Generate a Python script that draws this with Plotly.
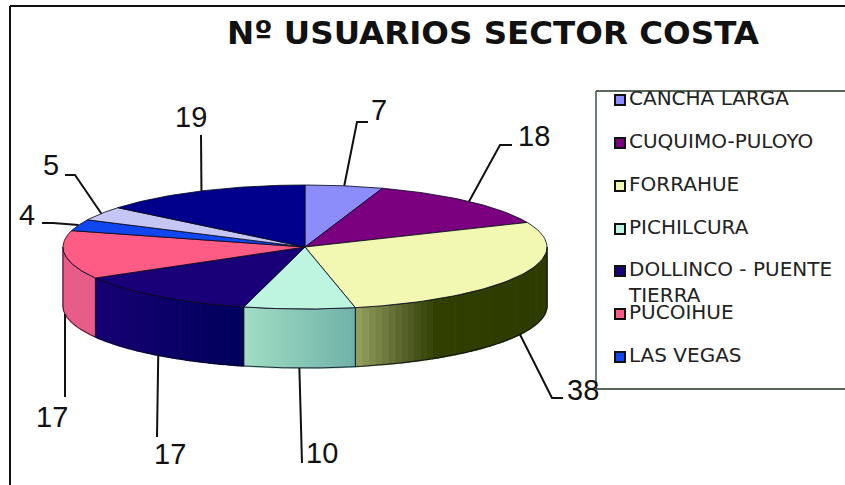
import numpy as np
import plotly.graph_objects as go

title = "Nº USUARIOS SECTOR COSTA"
sectors = ["CANCHA LARGA", "CUQUIMO-PULOYO", "FORRAHUE", "PICHILCURA",
           "DOLLINCO - PUENTE<br>TIERRA", "PUCOIHUE", "LAS VEGAS", "OTRO A", "OTRO B"]
values = [7, 18, 38, 10, 17, 17, 4, 5, 19]
top_colors = ["#8C8CFA", "#7A0080", "#F2F8B2", "#BEF5E0", "#1A0078",
              "#FF5C85", "#0F46F0", "#C6C6F5", "#00008C"]
# wall shading: (fraction left-to-right across the visible wall, colour)
wall_stops = {
    2: [(0, (150, 162, 96)), (0.28, (80, 92, 36)), (0.42, (50, 64, 2)), (1, (46, 60, 0))],
    3: [(0, (162, 222, 197)), (1, (112, 178, 168))],
    4: [(0, (24, 0, 116)), (1, (0, 0, 92))],
    5: [(0, (232, 92, 138)), (1, (232, 92, 138))],
}
legend_count = 7
legend_key_y = [100, 143, 186, 229, 271, 314, 357]
legend_text_y = [100, 143, 186, 229, 284, 314, 357]
label_specs = {  # elbow and label placement per sector (pixels)
    0: ([(357, 122), (368, 122)], (379, 110)),
    1: ([(500, 145), (512, 145)], (534, 136)),
    2: ([(552, 398), (563, 398)], (583, 390)),
    3: ([(302, 463)], (322, 453)),
    4: ([(157, 437)], (170, 454)),
    5: ([(65, 397)], (52, 417)),
    6: ([(53, 223), (42, 223)], (27, 215)),
    7: ([(75, 175), (65, 175)], (51, 165)),
    8: ([(201, 135)], (191, 117)),
}

CX, CY, A, B, DEPTH = 305, 247, 242, 62, 59
W, H = 845, 485
EDGE = "rgba(10,10,30,0.85)"


def rim(t, drop=0):
    t = np.radians(t)
    return CX + A * np.sin(t), CY - B * np.cos(t) + drop


def mix(stops, f):
    for (f0, c0), (f1, c1) in zip(stops, stops[1:]):
        if f <= f1:
            u = (f - f0) / (f1 - f0)
            return "rgb(%d,%d,%d)" % tuple(c0[i] + u * (c1[i] - c0[i]) for i in range(3))
    return "rgb(%d,%d,%d)" % stops[-1][1]


total = sum(values)
edges = np.cumsum([0] + values) / total * 360
fig = go.Figure()


def poly(x, y, fill, line=None, width=1):
    fig.add_trace(go.Scatter(x=list(x), y=list(y), mode="lines", fill="toself", fillcolor=fill,
                             line=dict(color=line or fill, width=width),
                             hoverinfo="skip", showlegend=False))


# side wall
for i, stops in wall_stops.items():
    a0, a1 = max(edges[i], 90), min(edges[i + 1], 270)
    n = max(int(abs(rim(a1)[0] - rim(a0)[0]) / 4), 1)
    span = np.linspace(a0, a1, n + 1)
    xl, xr = sorted((rim(a0)[0], rim(a1)[0]))
    for s0, s1 in zip(span, span[1:]):
        ss = np.linspace(s0, s1, 4)
        xt, yt = rim(ss)
        xb, yb = rim(ss[::-1], DEPTH)
        f = (rim((s0 + s1) / 2)[0] - xl) / (xr - xl)
        poly(np.r_[xt, xb], np.r_[yt, yb], mix(stops, f), width=1.5)
    ss = np.linspace(a0, a1, 60)
    xt, yt = rim(ss)
    xb, yb = rim(ss[::-1], DEPTH)
    fig.add_trace(go.Scatter(x=list(np.r_[xt, xb, xt[0]]), y=list(np.r_[yt, yb, yt[0]]), mode="lines",
                             line=dict(color=EDGE, width=1), hoverinfo="skip", showlegend=False))

# top faces
for i in range(len(values)):
    ss = np.linspace(edges[i], edges[i + 1], 60)
    xt, yt = rim(ss)
    poly(np.r_[CX, xt, CX], np.r_[CY, yt, CY], top_colors[i], EDGE, 1)

# leader lines and value labels
annotations = []
for i, v in enumerate(values):
    mid = (edges[i] + edges[i + 1]) / 2
    drop = DEPTH if 90 < mid < 270 else 0
    ax, ay = rim(mid, drop)
    pts, (lx, ly) = label_specs[i]
    fig.add_trace(go.Scatter(x=[ax] + [p[0] for p in pts], y=[ay] + [p[1] for p in pts], mode="lines",
                             line=dict(color="#111111", width=2), hoverinfo="skip", showlegend=False))
    annotations.append(dict(x=lx, y=ly, text=str(v), showarrow=False, xref="x", yref="y",
                            font=dict(family="Liberation Sans", size=29, color="#111111")))

# legend keys and names (as trace text so the box's top edge clips the first name)
fig.add_trace(go.Scatter(x=[620] * legend_count, y=legend_key_y, mode="markers",
                         marker=dict(symbol="square", size=10, color=top_colors[:legend_count],
                                     line=dict(color="#111111", width=2)),
                         hoverinfo="skip", showlegend=False))
fig.add_trace(go.Scatter(x=[629] * legend_count, y=legend_text_y, mode="text",
                         text=sectors[:legend_count], textposition="middle right",
                         textfont=dict(family="DejaVu Sans", size=20, color="#222222"),
                         hoverinfo="skip", showlegend=False))

annotations.append(dict(x=493, y=33, text="<b>%s</b>" % title, showarrow=False, xref="x", yref="y",
                        font=dict(family="DejaVu Sans", size=32.5, color="#111111")))

lines = [
    dict(x0=10, y0=6, x1=W, y1=6, color="#111111", width=2),
    dict(x0=10, y0=6, x1=10, y1=H, color="#111111", width=2),
    dict(x0=596, y0=91, x1=W, y1=91, color="#223322", width=1.5),
    dict(x0=596, y0=91, x1=596, y1=389, color="#335544", width=1.5),
    dict(x0=596, y0=389, x1=W, y1=389, color="#223322", width=1.5),
]
shapes = [dict(type="rect", xref="x", yref="y", x0=597, y0=78, x1=W, y1=90.5,
               fillcolor="white", line=dict(width=0), layer="above")]
shapes += [dict(type="line", xref="x", yref="y", x0=l["x0"], y0=l["y0"], x1=l["x1"], y1=l["y1"],
                line=dict(color=l["color"], width=l["width"])) for l in lines]

fig.update_layout(
    width=W, height=H, margin=dict(l=0, r=0, t=0, b=0),
    paper_bgcolor="white", plot_bgcolor="white", showlegend=False,
    xaxis=dict(range=[0, W], visible=False, fixedrange=True),
    yaxis=dict(range=[H, 0], visible=False, fixedrange=True),
    annotations=annotations, shapes=shapes,
)
fig.write_html("out.html", config={"displayModeBar": False},
               post_script="document.body.style.margin='0';document.body.style.overflow='hidden';")
